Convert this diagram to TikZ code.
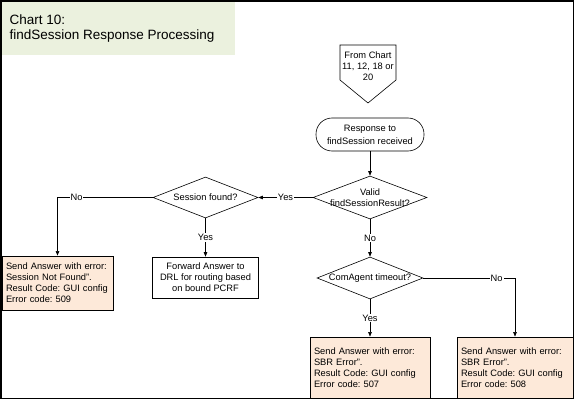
\documentclass[tikz,border=0pt]{standalone}
\usepackage{fontspec}
\setmainfont{Liberation Sans}
\usetikzlibrary{positioning,arrows.meta,shapes.geometric}
\definecolor{titlegreen}{RGB}{235,241,222}
\definecolor{errpeach}{RGB}{253,233,217}
\frenchspacing

\begin{document}
\begin{tikzpicture}[
    x=1pt, y=-1pt,
    every node/.style={font=\fontsize{9.3}{11}\selectfont, align=center},
    terminal/.style={draw, line width=0.6pt, rounded corners=16pt, minimum width=108pt, minimum height=33pt, font=\fontsize{9.3}{13}\selectfont},
    process/.style={draw, line width=0.6pt, minimum width=106pt, minimum height=41pt, inner sep=2pt},
    decision/.style={diamond, draw, line width=0.6pt, inner sep=0pt},
    errbox/.style={draw, fill=errpeach, line width=0.8pt, align=left, inner xsep=4pt, inner ysep=0pt},
    conn/.style={draw, line width=0.6pt, -{Triangle[length=4.5pt,width=3.5pt]}},
    lbl/.style={fill=white, inner sep=1pt},
  ]
    \useasboundingbox (0,0) rectangle (576,401);
    \fill[titlegreen] (2,2) rectangle (235,55);
    \node[anchor=west, align=left, font=\fontsize{13.5}{15}\selectfont] (title) at (6,28.5) {Chart 10:\\findSession Response Processing};

    \node (fromchart) at (368,66.5) {From Chart\\11, 12, 18 or\\20};
    \draw[line width=0.6pt] (340,45) -- (396,45) -- (396,80) -- (368,103) -- (340,80) -- cycle;

    \node[terminal] (response) at (370,134.5) {Response to\\findSession received};
    \node[decision, minimum width=114pt, minimum height=43pt, label={center:{Valid\\findSessionResult?}}] (valid) at (370,197.5) {};
    \node[decision, minimum width=105pt, minimum height=41pt, label={center:{Session found?}}] (session) at (205.5,197.5) {};
    \node[process] (forward) at (205.5,277.5) {Forward Answer to\\DRL for routing based\\on bound PCRF};
    \node[decision, minimum width=106pt, minimum height=42pt, label={center:{ComAgent timeout?}}] (comagent) at (370,278) {};

    \node[errbox, text width=103pt, minimum height=54pt] (nofound) at (57.5,283) {Send Answer with error:\\Session Not Found".\\Result Code: GUI config\\Error code: 509};
    \node[errbox, text width=112pt, minimum height=61pt] (err507) at (370,367.5) {Send Answer with error:\\SBR Error".\\Result Code: GUI config\\Error code: 507};
    \node[errbox, text width=108pt, minimum height=61pt] (err508) at (515,367.5) {Send Answer with error:\\SBR Error".\\Result Code: GUI config\\Error code: 508};

    \draw[conn] (response) -- (valid);
    \draw[conn] (valid) -- node[lbl] {Yes} (session);
    \draw[conn] (session) -| node[lbl, pos=0.4] {No} (nofound);
    \draw[conn] (session) -- node[lbl] {Yes} (forward);
    \draw[conn] (valid) -- node[lbl] {No} (comagent);
    \draw[conn] (comagent) -| node[lbl, pos=0.4] {No} (err508);
    \draw[conn] (comagent) -- node[lbl] {Yes} (err507);

    \draw[line width=1.6pt] (1,1) rectangle (573.5,398.5);
  \end{tikzpicture}
\end{document}
